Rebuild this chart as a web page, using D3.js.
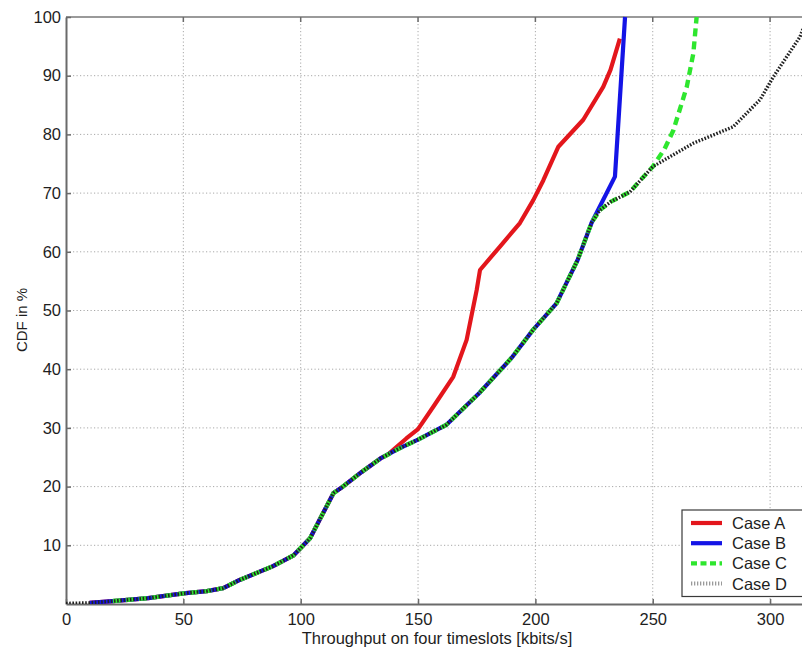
<!DOCTYPE html>
<html><head><meta charset="utf-8">
<script src="https://cdn.jsdelivr.net/npm/d3@7"></script>
<style>
html,body{margin:0;padding:0;background:#fff;}
svg{display:block;font-family:"Liberation Sans",Arial,sans-serif;}
</style></head>
<body>
<svg id="chart" width="802" height="650"></svg>
<script>
// ---- data ----
const xTicks = [0, 50, 100, 150, 200, 250, 300];
const yTicks = [10, 20, 30, 40, 50, 60, 70, 80, 90, 100];
const seriesNames = ["Case A", "Case B", "Case C", "Case D"];

const caseA_x = [10, 20, 35, 50, 60, 67, 74, 88, 97, 104, 108, 114, 117, 126, 134, 137, 145, 150, 156.5, 165, 170.7, 175, 176.4, 184.9, 193.4, 199.1, 203.4, 209.8, 220.4, 228.9, 232, 236];
const caseA_y = [0.2, 0.5, 1.0, 1.8, 2.2, 2.7, 4.1, 6.4, 8.3, 11.2, 14.3, 18.9, 19.7, 22.5, 24.8, 25.4, 28.2, 29.8, 33.6, 38.7, 45, 53.5, 56.9, 60.9, 64.9, 68.8, 72.2, 77.9, 82.5, 88.1, 91, 96.3];

const caseB_x = [10, 20, 35, 50, 60, 67, 74, 88, 97, 104, 108, 114, 117, 126, 134, 142, 150, 162, 176, 190, 199, 209, 218, 224, 233.9, 238.2];
const caseB_y = [0.2, 0.5, 1.0, 1.8, 2.2, 2.7, 4.1, 6.4, 8.3, 11.2, 14.3, 18.9, 19.7, 22.5, 24.8, 26.5, 28.0, 30.5, 35.9, 42, 46.7, 51.2, 58.6, 65, 72.8, 100];

const caseC_x = [20, 35, 50, 60, 67, 74, 88, 97, 104, 108, 114, 117, 126, 134, 142, 150, 162, 176, 190, 199, 209, 218, 224, 227.5, 232, 240.3, 245, 250, 255, 258.8, 264.5, 267.3, 268.7];
const caseC_y = [0.5, 1.0, 1.8, 2.2, 2.7, 4.1, 6.4, 8.3, 11.2, 14.3, 18.9, 19.7, 22.5, 24.8, 26.5, 28.0, 30.5, 35.9, 42, 46.7, 51.2, 58.6, 65, 67.1, 68.5, 70.2, 72.3, 74.5, 77.5, 80.7, 88.1, 93.8, 100];

const caseD_x = [0, 10, 20, 35, 50, 60, 67, 74, 88, 97, 104, 108, 114, 117, 126, 134, 142, 150, 162, 176, 190, 199, 209, 218, 224, 227.5, 232, 240.3, 245, 250, 267.3, 284.3, 295.7, 301.4, 312.7, 316];
const caseD_y = [0.1, 0.2, 0.5, 1.0, 1.8, 2.2, 2.7, 4.1, 6.4, 8.3, 11.2, 14.3, 18.9, 19.7, 22.5, 24.8, 26.5, 28.0, 30.5, 35.9, 42, 46.7, 51.2, 58.6, 65, 67.1, 68.5, 70.2, 72.3, 74.5, 78.5, 81.3, 85.9, 89.8, 96.6, 100];

// ---- layout ----
const L = 66, R = 802, T = 17, B = 604;
const svg = d3.select("#chart");
const x = d3.scaleLinear().domain([0, 313.6]).range([L, R]);
const y = d3.scaleLinear().domain([0, 100]).range([B, T]);

const styles = [
  {color: "#e3161c", width: 4.2, dash: null},
  {color: "#1414e6", width: 4.2, dash: null},
  {color: "#2ee62e", width: 4.4, dash: "8,5"},
  {color: "#222222", width: 3.4, dash: "1.6,1.6"}
];

// grid
const grid = svg.append("g");
grid.selectAll("line.gx").data(xTicks.filter(d => d > 0)).join("line")
  .attr("x1", d => x(d)).attr("x2", d => x(d)).attr("y1", T).attr("y2", B)
  .attr("stroke", "#a8a8a8").attr("stroke-width", 1).attr("stroke-dasharray", "1.2,2.3");
grid.selectAll("line.gy").data(yTicks).join("line")
  .attr("x1", L).attr("x2", R).attr("y1", d => y(d)).attr("y2", d => y(d))
  .attr("stroke", "#a8a8a8").attr("stroke-width", 1).attr("stroke-dasharray", "1.2,2.3");

// top border
svg.append("line").attr("x1", L).attr("x2", R).attr("y1", T).attr("y2", T)
  .attr("stroke", "#9a9a9a").attr("stroke-width", 2);

// axes
const xAxis = svg.append("g").attr("transform", `translate(0,${B})`)
  .call(d3.axisBottom(x).tickValues(xTicks).tickSize(-5).tickSizeOuter(0).tickPadding(9).tickFormat(d3.format("d")));
const yAxis = svg.append("g").attr("transform", `translate(${L},0)`)
  .call(d3.axisLeft(y).tickValues(yTicks).tickSize(-5).tickSizeOuter(0).tickPadding(5).tickFormat(d3.format("d")));
[xAxis, yAxis].forEach(a => {
  a.select(".domain").attr("stroke", "#6a6a6a").attr("stroke-width", 2);
  a.selectAll(".tick line").attr("stroke", "#6a6a6a").attr("stroke-width", 1.5);
  a.selectAll(".tick text").attr("fill", "#1e1e1e").style("font-size", "16.5px")
   .style("font-family", "'Liberation Sans',Arial,sans-serif");
});
// top ticks
svg.append("g").selectAll("line").data(xTicks.filter(d => d > 0)).join("line")
  .attr("x1", d => x(d)).attr("x2", d => x(d)).attr("y1", T).attr("y2", T + 5)
  .attr("stroke", "#6a6a6a").attr("stroke-width", 1.5);

// clip
svg.append("clipPath").attr("id", "clip").append("rect")
  .attr("x", L).attr("y", T - 3).attr("width", R - L).attr("height", B - T + 3);

const line = d3.line().x(d => x(d[0])).y(d => y(d[1]));
const allX = [caseA_x, caseB_x, caseC_x, caseD_x];
const allY = [caseA_y, caseB_y, caseC_y, caseD_y];
const plot = svg.append("g").attr("clip-path", "url(#clip)");
allX.forEach((xs, i) => {
  const pts = xs.map((v, k) => [v, allY[i][k]]);
  plot.append("path").datum(pts).attr("d", line)
    .attr("fill", "none").attr("stroke", styles[i].color)
    .attr("stroke-width", styles[i].width)
    .attr("stroke-linejoin", "round")
    .attr("stroke-dasharray", styles[i].dash);
});

// axis titles
svg.append("text").attr("x", 437).attr("y", 644).attr("text-anchor", "middle")
  .style("font-size", "16.5px").attr("fill", "#1e1e1e")
  .text("Throughput on four timeslots [kbits/s]");
svg.append("text").attr("transform", "translate(27,320) rotate(-90)")
  .attr("text-anchor", "middle").style("font-size", "15px").attr("fill", "#1e1e1e")
  .text("CDF in %");

// legend
const lg = svg.append("g");
lg.append("rect").attr("x", 682).attr("y", 510).attr("width", 130).attr("height", 86.5)
  .attr("fill", "#fff").attr("stroke", "#3a3a3a").attr("stroke-width", 1.2);
seriesNames.forEach((name, i) => {
  const cy = 523 + i * 20.2;
  lg.append("line").attr("x1", 691).attr("x2", 722).attr("y1", cy).attr("y2", cy)
    .attr("stroke", styles[i].color).attr("stroke-width", i === 3 ? 3 : 4.2)
    .attr("stroke-dasharray", i === 2 ? "6,3.5" : (i === 3 ? "1.3,1.7" : null));
  if (i === 3) lg.select("line:last-of-type").attr("stroke", "#9a9a9a").attr("stroke-width", 4);
  lg.append("text").attr("x", 732).attr("y", cy + 6).style("font-size", "16.5px")
    .attr("fill", "#1e1e1e").text(name);
});
</script>
</body></html>
